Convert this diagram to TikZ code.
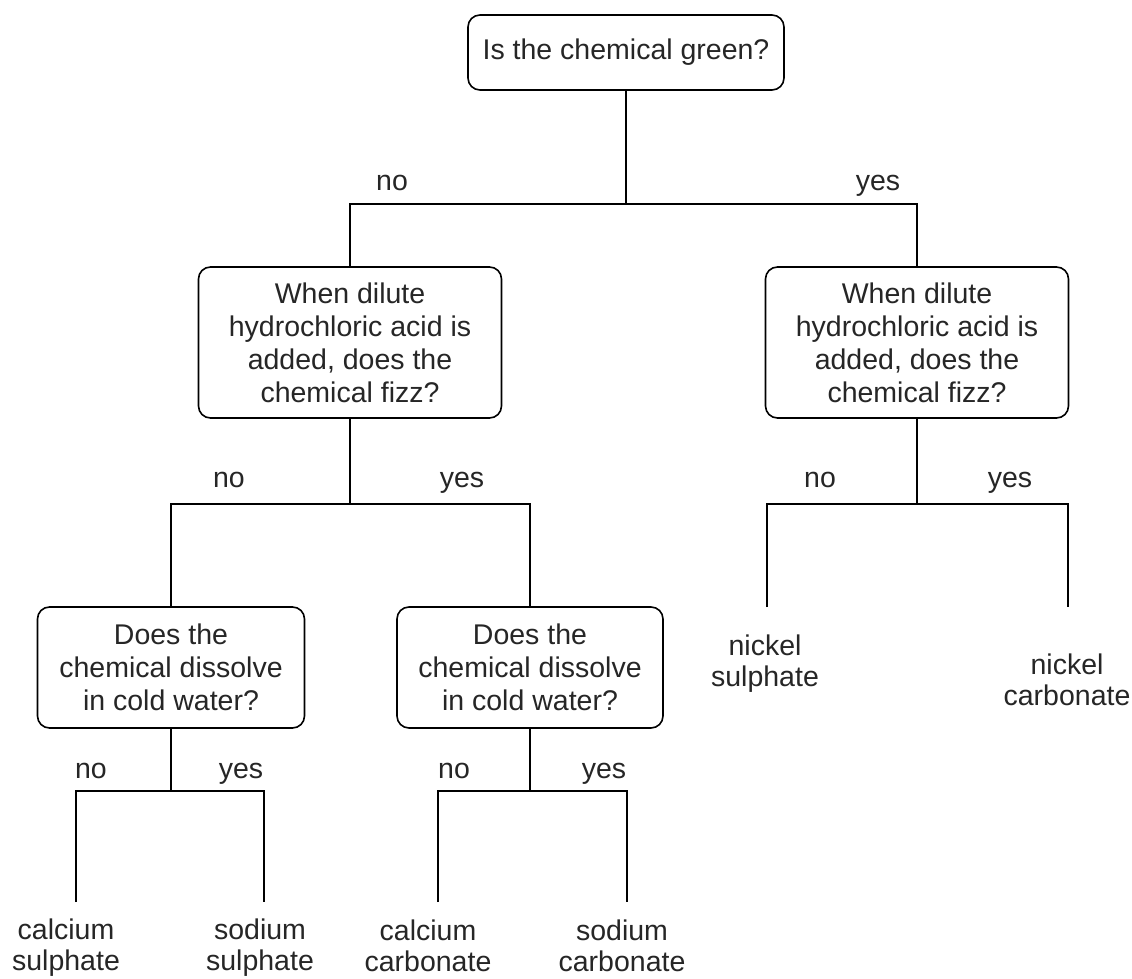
\documentclass[tikz,border=0pt]{standalone}
\usepackage{fontspec}
\setmainfont{Liberation Sans}
\begin{document}
\begin{tikzpicture}[x=1pt,y=-1pt,
  q/.style={draw, line width=1.6pt, rounded corners=12pt, align=center,
    font=\fontsize{28.5}{33}\selectfont, text=black!85, inner sep=0pt},
  lbl/.style={font=\fontsize{28.5}{33}\selectfont, text=black!85, inner sep=0pt, anchor=base},
  leaf/.style={font=\fontsize{28.5}{31}\selectfont, text=black!85, inner sep=0pt, align=center},
  ln/.style={line width=1.2pt}]
\useasboundingbox[fill=white] (0,0) rectangle (1132,979);
% question boxes
\node[q, minimum width=316pt, minimum height=75pt] (top) at (626,52.5) {Is the chemical green?};
\node[q, minimum width=303pt, minimum height=151pt] (midL) at (350,342.5)
  {When dilute\\hydrochloric acid is\\added, does the\\chemical fizz?};
\node[q, minimum width=303pt, minimum height=151pt] (midR) at (917,342.5)
  {When dilute\\hydrochloric acid is\\added, does the\\chemical fizz?};
\node[q, minimum width=267pt, minimum height=121pt] (lowL) at (171,667.5)
  {Does the\\chemical dissolve\\in cold water?};
\node[q, minimum width=266pt, minimum height=121pt] (lowR) at (530,667.5)
  {Does the\\chemical dissolve\\in cold water?};
% junctions
\coordinate (j1) at (626,204);
\coordinate (j2) at (350,504);
\coordinate (j3) at (917,504);
\coordinate (j4) at (171,791);
\coordinate (j5) at (530,791);
% leaf line ends
\coordinate (e1) at (767,607);
\coordinate (e2) at (1068,607);
\coordinate (e3) at (76,902);
\coordinate (e4) at (264,902);
\coordinate (e5) at (438,902);
\coordinate (e6) at (627,902);
% connectors
\draw[ln] (top.south) -- (j1);
\draw[ln] (midL.north) |- (j1) -| (midR.north);
\draw[ln] (midL.south) -- (j2);
\draw[ln] (lowL.north) |- (j2) -| (lowR.north);
\draw[ln] (midR.south) -- (j3);
\draw[ln] (e1) |- (j3) -| (e2);
\draw[ln] (lowL.south) -- (j4);
\draw[ln] (e3) |- (j4) -| (e4);
\draw[ln] (lowR.south) -- (j5);
\draw[ln] (e5) |- (j5) -| (e6);
% branch labels
\node[lbl] (n1) at (392,190) {no};
\node[lbl] (y1) at (878,190) {yes};
\node[lbl] (n2) at (229,487) {no};
\node[lbl] (y2) at (462,487) {yes};
\node[lbl] (n3) at (820,487) {no};
\node[lbl] (y3) at (1010,487) {yes};
\node[lbl] (n4) at (91,778) {no};
\node[lbl] (y4) at (241,778) {yes};
\node[lbl] (n5) at (454,778) {no};
\node[lbl] (y5) at (604,778) {yes};
% results
\node[leaf] (r1) at (765,664) {nickel\\sulphate};
\node[leaf] (r2) at (1067,680) {nickel\\carbonate};
\node[leaf] (r3) at (66,948) {calcium\\sulphate};
\node[leaf] (r4) at (260,948) {sodium\\sulphate};
\node[leaf] (r5) at (428,946) {calcium\\carbonate};
\node[leaf] (r6) at (622,946) {sodium\\carbonate};
\end{tikzpicture}
\end{document}
